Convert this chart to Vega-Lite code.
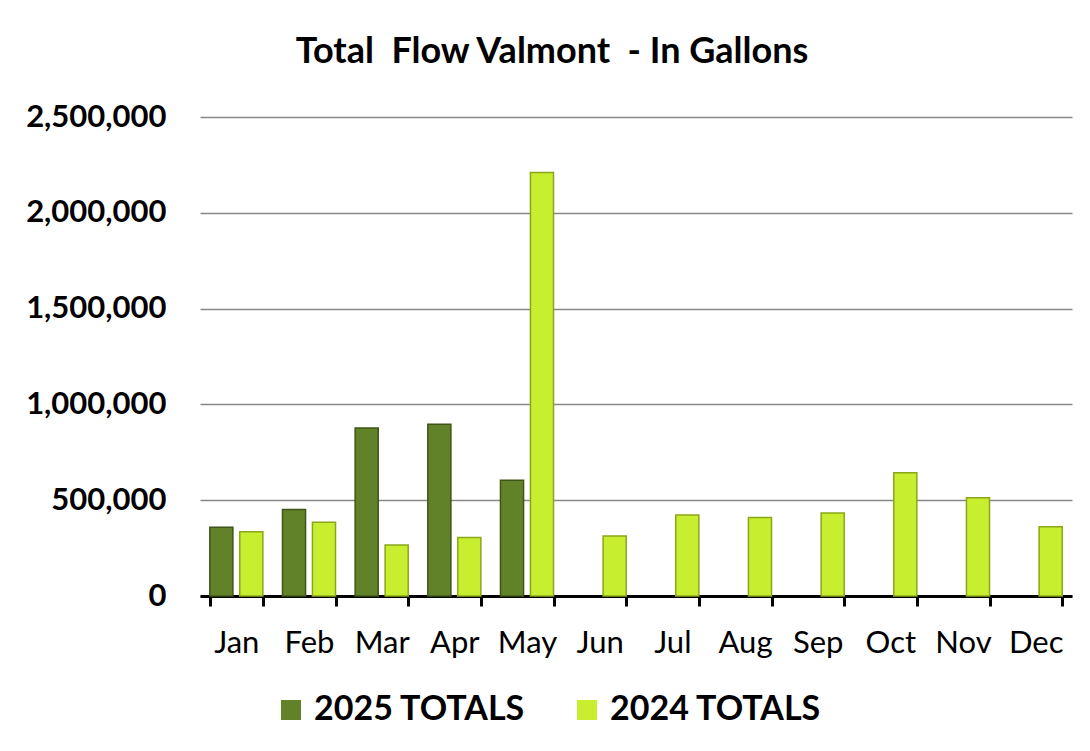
{
  "$schema": "https://vega.github.io/schema/vega-lite/v6.json",
  "width": 872,
  "height": 479,
  "autosize": {"type": "none"},
  "padding": {"left": 200, "top": 117, "right": 18, "bottom": 155},
  "background": "white",
  "title": {
    "text": "Total\u00a0 Flow Valmont\u00a0 - In Gallons",
    "font": "Lato",
    "fontSize": 36,
    "fontWeight": "bold",
    "color": "black",
    "anchor": "middle",
    "dx": -84,
    "offset": 30
  },
  "data": {
    "values": [
      {"month": "Jan", "series": "2025 TOTALS", "value": 359000},
      {"month": "Jan", "series": "2024 TOTALS", "value": 335000},
      {"month": "Feb", "series": "2025 TOTALS", "value": 451000},
      {"month": "Feb", "series": "2024 TOTALS", "value": 385000},
      {"month": "Mar", "series": "2025 TOTALS", "value": 877000},
      {"month": "Mar", "series": "2024 TOTALS", "value": 266000},
      {"month": "Apr", "series": "2025 TOTALS", "value": 897000},
      {"month": "Apr", "series": "2024 TOTALS", "value": 305000},
      {"month": "May", "series": "2025 TOTALS", "value": 604000},
      {"month": "May", "series": "2024 TOTALS", "value": 2210000},
      {"month": "Jun", "series": "2024 TOTALS", "value": 313000},
      {"month": "Jul", "series": "2024 TOTALS", "value": 423000},
      {"month": "Aug", "series": "2024 TOTALS", "value": 410000},
      {"month": "Sep", "series": "2024 TOTALS", "value": 433000},
      {"month": "Oct", "series": "2024 TOTALS", "value": 643000},
      {"month": "Nov", "series": "2024 TOTALS", "value": 513000},
      {"month": "Dec", "series": "2024 TOTALS", "value": 362000}
    ]
  },
  "mark": {"type": "bar", "strokeWidth": 1.5},
  "encoding": {
    "x": {
      "field": "month",
      "type": "nominal",
      "sort": ["Jan","Feb","Mar","Apr","May","Jun","Jul","Aug","Sep","Oct","Nov","Dec"],
      "scale": {"paddingInner": 0.27, "paddingOuter": 0.135},
      "axis": {
        "title": null,
        "labelAngle": 0,
        "labelFont": "Lato",
        "labelFontSize": 31,
        "labelColor": "black",
        "labelPadding": 22,
        "tickBand": "extent",
        "tickColor": "black",
        "tickWidth": 3,
        "tickSize": 10,
        "domainColor": "black",
        "domainWidth": 3,
        "grid": false
      }
    },
    "xOffset": {
      "field": "series",
      "type": "nominal",
      "sort": ["2025 TOTALS", "2024 TOTALS"],
      "scale": {"paddingInner": 0.23}
    },
    "y": {
      "field": "value",
      "type": "quantitative",
      "scale": {"domain": [0, 2500000]},
      "axis": {
        "title": null,
        "values": [0, 500000, 1000000, 1500000, 2000000, 2500000],
        "format": ",d",
        "labelFont": "Lato",
        "labelFontSize": 31,
        "labelFontWeight": "bold",
        "labelColor": "black",
        "labelPadding": 34,
        "ticks": false,
        "domain": false,
        "grid": true,
        "gridColor": "#888888",
        "gridWidth": 1.5
      }
    },
    "color": {
      "field": "series",
      "type": "nominal",
      "sort": ["2025 TOTALS", "2024 TOTALS"],
      "scale": {"domain": ["2025 TOTALS", "2024 TOTALS"], "range": ["#62822a", "#c8ee30"]},
      "legend": {
        "title": null,
        "orient": "none",
        "direction": "horizontal",
        "legendX": 74,
        "legendY": 576,
        "symbolType": "square",
        "symbolSize": 400,
        "symbolStrokeWidth": 0,
        "symbolOpacity": 1,
        "labelFont": "Lato",
        "labelFontSize": 34,
        "labelFontWeight": "bold",
        "labelColor": "black",
        "labelLimit": 400,
        "labelOffset": 6,
        "columnPadding": 44
      }
    },
    "stroke": {
      "field": "series",
      "type": "nominal",
      "scale": {"domain": ["2025 TOTALS", "2024 TOTALS"], "range": ["#3f5518", "#8aa61a"]},
      "legend": null
    }
  },
  "config": {
    "view": {"stroke": null}
  }
}
